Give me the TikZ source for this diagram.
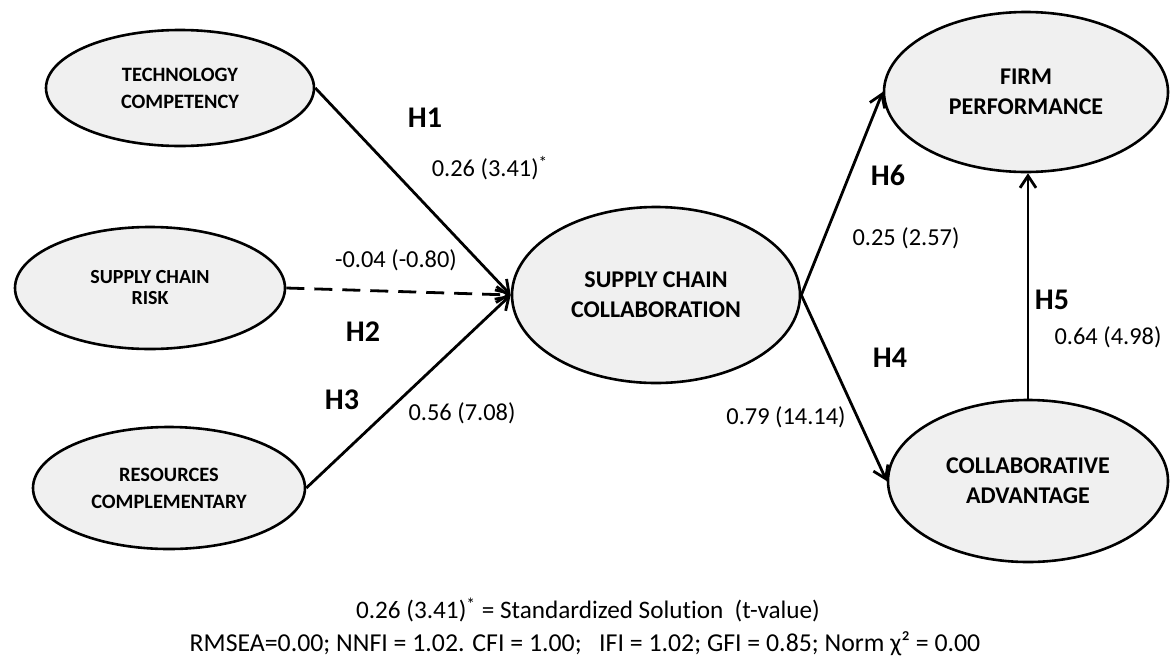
\documentclass[tikz,border=0pt]{standalone}
\usepackage{fontspec}
\setmainfont{Carlito}[Ligatures=NoCommon]
\usepackage{xcolor}
\usetikzlibrary{arrows.meta,positioning,shapes.geometric}
\definecolor{latentgray}{RGB}{240,240,240}

\begin{document}
\begin{tikzpicture}[x=0.5pt,y=-0.5pt,
        latent/.style={ellipse, draw, line width=1.3pt, fill=latentgray, inner sep=0pt, align=center,
            font=\bfseries\fontsize{10.2}{13.5}\selectfont},
        biglatent/.style={latent, font=\bfseries\fontsize{12}{15}\selectfont},
        link/.style={line width=1.4pt, -{Straight Barb[length=6pt,width=8pt,line width=1.4pt]}},
        hyp/.style={font=\bfseries\fontsize{15}{17}\selectfont},
        coef/.style={font=\fontsize{12.2}{14}\selectfont}]
        \useasboundingbox (0,0) rectangle (1171,659);
        % latent variables
        \node[latent, minimum width=134pt, minimum height=58pt] (tc) at (180,88) {TECHNOLOGY\\COMPETENCY};
        \node[latent, minimum width=135pt, minimum height=61pt, font=\bfseries\fontsize{10}{10.5}\selectfont] (scr) at (150,288) {SUPPLY CHAIN\\RISK};
        \node[latent, minimum width=136pt, minimum height=61pt] (rc) at (169,488) {RESOURCES\\COMPLEMENTARY};
        \node[biglatent, minimum width=144pt, minimum height=88pt] (scc) at (656,295) {SUPPLY CHAIN\\COLLABORATION};
        \node[biglatent, minimum width=142pt, minimum height=80pt] (fp) at (1026,92) {FIRM\\PERFORMANCE};
        \node[biglatent, minimum width=140pt, minimum height=81pt] (ca) at (1028,481) {COLLABORATIVE\\ADVANTAGE};
        % paths
        \draw[link] (tc.east) -- (scc.west);
        \draw[link, dash pattern=on 9pt off 5pt] (scr.east) -- (scc.west);
        \draw[link] (rc.east) -- (scc.west);
        \draw[link] (scc.east) -- (fp.west);
        \draw[link] (scc.east) -- (ca.west);
        \draw[link] (ca.north) -- (ca.north |- fp.south);
        % hypotheses and estimates
        \node[hyp] (h1) at (425,118) {H1};
        \node[coef] (e1) at (490,168) {0.26 (3.41)\textsuperscript{*}};
        \node[coef] (e2) at (396,260) {-0.04 (-0.80)};
        \node[hyp] (h2) at (363,332) {H2};
        \node[hyp] (h3) at (342,400) {H3};
        \node[coef] (e3) at (462,413) {0.56 (7.08)};
        \node[hyp] (h6) at (888,175) {H6};
        \node[coef] (e6) at (906,238) {0.25 (2.57)};
        \node[hyp] (h5) at (1052,300) {H5};
        \node[coef] (e5) at (1108,337) {0.64 (4.98)};
        \node[hyp] (h4) at (890,358) {H4};
        \node[coef] (e4) at (786,417) {0.79 (14.14)};
        % legend
        \node[coef, font=\fontsize{12.6}{14}\selectfont] (key) at (588,610) {0.26 (3.41)\textsuperscript{*} = Standardized Solution\ \ (t-value)};
        \node[coef, font=\fontsize{12.9}{14}\selectfont, inner sep=1pt] (fit) at (585,644) {RMSEA=0.00; NNFI = 1.02. CFI = 1.00;\ \ \ IFI = 1.02; GFI = 0.85; Norm χ² = 0.00};
    \end{tikzpicture}
\end{document}
